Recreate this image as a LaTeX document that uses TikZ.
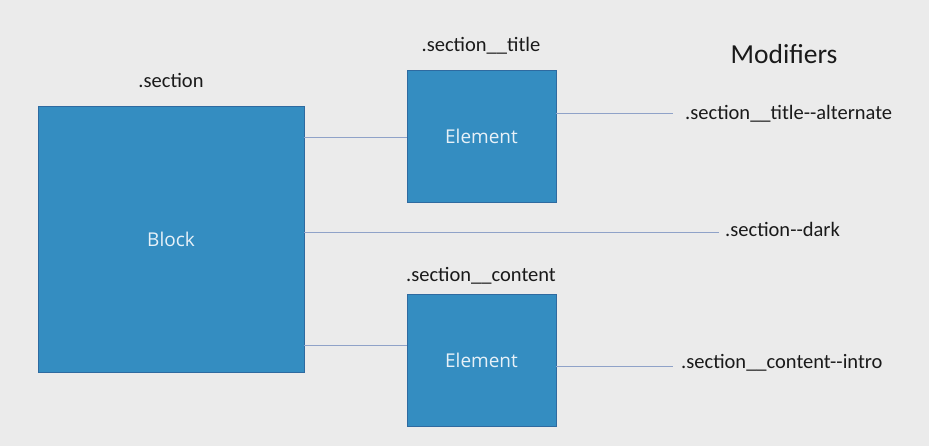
\documentclass[tikz,border=0pt]{standalone}
\usepackage{fontspec}
\setmainfont{Carlito}
\newfontfamily\boxfont{Open Sans}
\definecolor{bg}{HTML}{EBEBEB}
\definecolor{boxfill}{HTML}{348DC1}
\definecolor{boxedge}{HTML}{2E6AA0}
\definecolor{linec}{HTML}{8FA2C8}
\definecolor{txt}{HTML}{1A1A1A}
\begin{document}
\begin{tikzpicture}[x=1pt,y=-1pt,
  bluebox/.style={draw=boxedge,line width=0.8pt,fill=boxfill,inner sep=0pt,
    text=white!88!boxfill,font=\boxfont\fontsize{19}{22}\selectfont},
  lbl/.style={text=txt,inner sep=0pt,font=\fontsize{20.5}{24}\selectfont},
  conn/.style={draw=linec,line width=0.9pt}]
\fill[bg] (0,0) rectangle (929,446);
\useasboundingbox (0,0) rectangle (929,446);
\node[bluebox,minimum width=266pt,minimum height=266pt] (block) at (171,239) {Block};
\node[bluebox,minimum width=149pt,minimum height=132pt] (el1) at (481.5,136) {Element};
\node[bluebox,minimum width=149pt,minimum height=132pt] (el2) at (481.5,360.5) {Element};
\node[lbl] (lsec) at (171,80) {.section};
\node[lbl] (ltitle) at (481,46) {.section\_\_title};
\node[lbl] (lcontent) at (481,276) {.section\_\_content};
\node[lbl,font=\fontsize{27.5}{32}\selectfont] (mods) at (784,54) {Modifiers};
\node[lbl,anchor=west] (m1) at (685,114) {.section\_\_title-{}-alternate};
\node[lbl,anchor=west] (m2) at (725,229) {.section-{}-dark};
\node[lbl,anchor=west] (m3) at (681,363) {.section\_\_content-{}-intro};
\coordinate (c1) at (673,113);
\coordinate (c2) at (719,232);
\coordinate (c3) at (673,366);
\draw[conn] (block.east |- 0,137) -- (el1.west |- 0,137);
\draw[conn] (block.east |- 0,345) -- (el2.west |- 0,345);
\draw[conn] (block.east |- c2) -- (c2);
\draw[conn] (el1.east |- c1) -- (c1);
\draw[conn] (el2.east |- c3) -- (c3);
\end{tikzpicture}
\end{document}
